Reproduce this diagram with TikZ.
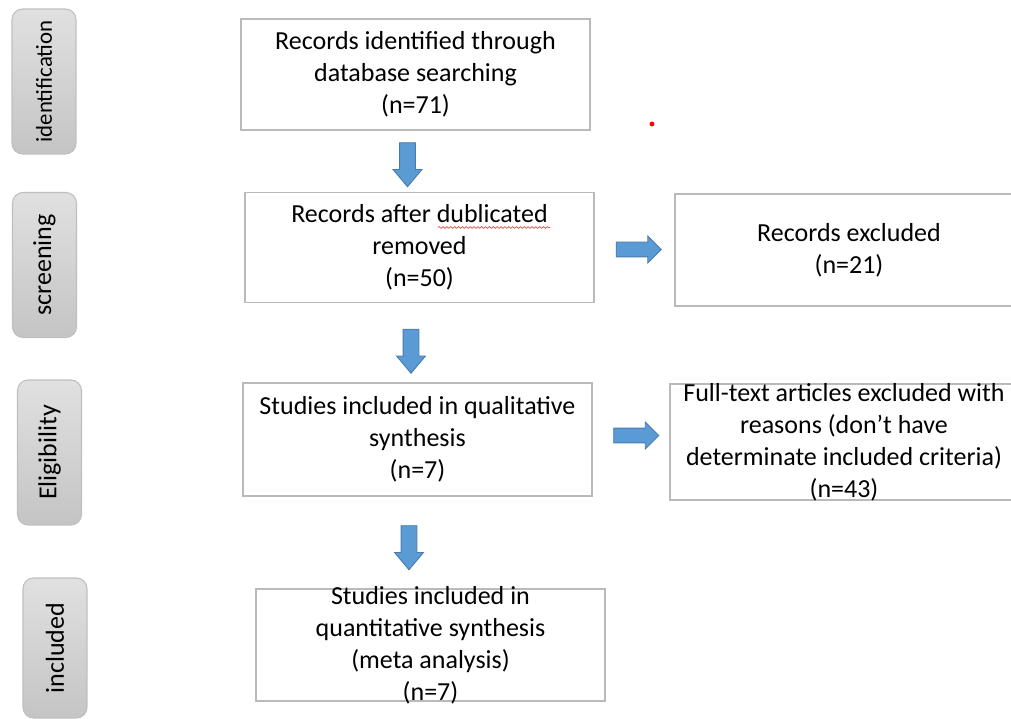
\documentclass[tikz,border=0pt]{standalone}
\usepackage{fontspec}
\setmainfont{Carlito}
\usepackage{tikz}
\usetikzlibrary{shapes.arrows, positioning, calc, decorations.pathmorphing}
\definecolor{flowblue}{RGB}{91,155,213}
\definecolor{flowedge}{RGB}{72,122,172}

\begin{document}
\begin{tikzpicture}[
    x=0.02cm, y=-0.02cm,
    stage/.style={rectangle, draw=black!27, line width=0.8pt, fill=white,
                  inner sep=0pt},
    boxtext/.style={align=center, inner sep=0pt,
                    font=\fontsize{14.8}{18.2}\selectfont},
    phase/.style={rectangle, rounded corners=6pt, draw=black!25, line width=0.6pt,
                  top color=black!12, bottom color=black!23, rotate=90,
                  minimum width=2.9cm, minimum height=1.28cm, inner sep=0pt,
                  font=\fontsize{14.8}{18}\selectfont},
    down/.style={single arrow, draw=flowedge, fill=flowblue, line width=0.5pt,
                 rotate=-90, inner xsep=0pt, inner ysep=0.15cm,
                 minimum height=0.88cm, single arrow head extend=0.13cm,
                 single arrow tip angle=80},
    right/.style={single arrow, draw=flowedge, fill=flowblue, line width=0.5pt,
                  inner xsep=0pt, inner ysep=0.14cm, minimum height=0.9cm,
                  single arrow head extend=0.12cm, single arrow tip angle=90}
]
\useasboundingbox (0,0) rectangle (1011,719);
\clip (0,0) rectangle (1011,719);
\fill[white] (0,0) rectangle (1011,719);

% phase tabs on the left
\node[phase, font=\fontsize{13}{16}\selectfont] (ident) at (44,81.5) {identification};
\node[phase] (screen) at (44.5,265) {screening};
\node[phase] (elig) at (49.5,452.5) {Eligibility};
\node[phase, minimum width=2.8cm] (incl) at (55,648) {included};

% boxes
\node[stage, minimum width=6.98cm, minimum height=2.22cm,
      label={[boxtext]center:{Records identified through\\database searching\\(n=71)}}]
      (found) at (415.5,74.5) {};
\node[stage, minimum width=6.98cm, minimum height=2.2cm,
      label={[boxtext]center:{Records after dublicated\\removed\\(n=50)}}]
      (dedup) at (419.5,247.5) {};
\node[stage, minimum width=6.96cm, minimum height=2.24cm,
      label={[boxtext]center:{Records excluded\\(n=21)}}]
      (excl) at (849,250) {};
\node[stage, minimum width=6.98cm, minimum height=2.26cm,
      label={[boxtext]center:{Studies included in qualitative\\synthesis\\(n=7)}}]
      (qual) at (417.5,439.5) {};
\node[stage, minimum width=6.96cm, minimum height=2.32cm,
      label={[boxtext]center:{Full-text articles excluded with\\reasons (don’t have\\determinate included criteria)\\(n=43)}}]
      (fulltext) at (844,442) {};
\node[stage, minimum width=6.98cm, minimum height=2.24cm,
      label={[boxtext]center:{Studies included in\\quantitative synthesis\\(meta analysis)\\(n=7)}}]
      (quant) at (430.5,645) {};

% block arrows
\node[down] (arrowa) at (407.5,160) {};
\node[down] (arrowb) at (411,346.5) {};
\node[down] (arrowc) at (409,543) {};
\node[right] (arrowd) at (635,249.5) {};
\node[right] (arrowe) at (632.5,435.5) {};

% spell-check mark and stray dot
\draw[red!80, line width=0.35pt, decorate,
      decoration={snake, amplitude=0.5pt, segment length=2.2pt}]
    ($(dedup.center)+(18.5,-20)$) -- ++(112,0);
\fill[red] (652,124) circle (1.4pt);
\end{tikzpicture}
\end{document}
